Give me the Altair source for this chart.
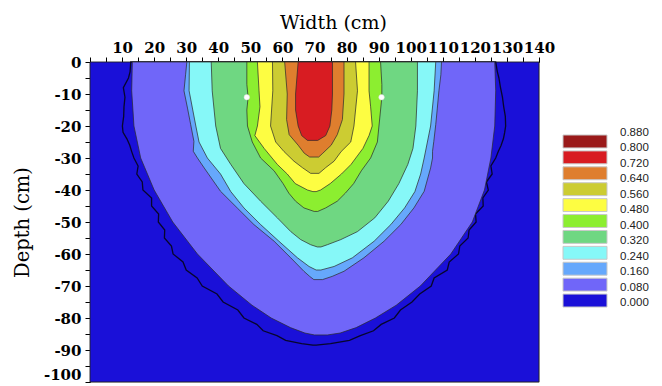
import altair as alt
import pandas as pd

# ---------------- values ----------------
# whole domain (0.000 class background)
BG_DEPTH = [0, -100]
BG_LEFT = [0, 0]
BG_RIGHT = [140, 140]

# outer (jagged) contour line: depth (cm) with left / right edge (cm)
OUT_DEPTH = [0, -3, -5, -8, -11, -14, -17, -20, -22, -24, -26, -28, -30, -32.5, -35, -37.5, -40,
             -42.5, -45, -47.5, -50, -52.5, -55, -57.5, -60, -62.5, -65, -67.5, -70, -72.5, -75,
             -77.5, -80, -82, -84, -85.5, -87, -88, -88.5]
OUT_LEFT = [12.7, 12.5, 12.0, 10.4, 10.9, 10.6, 10.5, 10.1, 10.3, 11.5, 12.4, 13.0, 13.7, 15.0, 14.6,
            16.3, 16.5, 19.2, 19.2, 21.4, 21.3, 23.3, 23.2, 25.4, 25.9, 29.0, 30.0, 33.4, 35.0, 39.6,
            41.5, 46.1, 48.0, 52.0, 54.0, 58.3, 61.0, 66.0, 69.5]
OUT_RIGHT = [126.5, 127.0, 127.5, 128.0, 128.6, 129.0, 129.5, 129.6, 129.3, 128.9, 128.2, 127.3, 126.5,
             125.0, 125.4, 123.6, 124.2, 122.5, 122.6, 120.2, 120.4, 118.2, 117.9, 115.3, 114.9, 112.0,
             111.4, 107.3, 106.4, 102.8, 100.4, 96.8, 94.9, 90.8, 88.4, 84.3, 80.9, 75.0, 70.5]

# filled contour regions (value >= level)
L08_DEPTH = [0, -9, -20, -30, -40, -50, -60, -70, -76, -80, -83, -84.7, -85.3]
L08_LEFT = [13.2, 13.0, 13.7, 15.8, 20.0, 25.8, 33.5, 43.2, 50.5, 56.5, 62.5, 67.0, 70.0]
L08_RIGHT = [126.2, 126.5, 126.2, 125.0, 123.0, 119.2, 112.5, 103.0, 95.5, 89.0, 83.0, 78.0, 74.0]

L16_DEPTH = [0, -4, -9, -14.4, -19.6, -24.8, -27.9, -30, -33.1, -40.4, -45.6, -50.8, -56, -61.2, -65.4, -67, -68]
L16_LEFT = [30.2, 29.8, 29.3, 30.4, 31.4, 32.4, 32.2, 33.5, 35.6, 40.7, 45.9, 51.1, 57.4, 62.6, 66.7, 68.5, 69.8]
L16_RIGHT = [109.6, 109.4, 108.8, 108.3, 107.8, 107.2, 106.8, 106.8, 106.2, 104.2, 101.0, 96.9, 91.7, 85.4, 79.2, 75.5, 72.5]

L24_DEPTH = [0, -9, -20, -25, -30, -35, -40.5, -45.6, -50.8, -56, -61.2, -63.9, -65]
L24_LEFT = [31.0, 30.9, 33.0, 34.0, 36.6, 40.7, 43.9, 48.0, 53.2, 58.9, 64.7, 68.3, 70.5]
L24_RIGHT = [107.8, 107.3, 106.2, 105.2, 104.2, 103.1, 101.3, 98.1, 93.8, 88.6, 81.8, 76.1, 72.0]

L32_DEPTH = [0, -9, -20, -27, -32, -38, -43.5, -48.7, -53, -55.5, -57.1, -57.8]
L32_LEFT = [37.8, 38.1, 39.2, 40.7, 43.9, 48.0, 53.2, 58.4, 62.6, 65.7, 68.8, 70.9]
L32_RIGHT = [102.1, 102.1, 101.6, 100.7, 99.1, 96.3, 93.0, 88.8, 83.4, 78.2, 74.0, 72.0]

L40_DEPTH = [0, -7, -11, -15, -20, -25, -30, -34, -38, -41, -43.5, -45.6, -46.7]
L40_LEFT = [48.9, 48.9, 49.3, 48.9, 49.1, 50.6, 53.2, 57.4, 60.2, 62.0, 64.1, 66.7, 69.9]
L40_RIGHT = [90.6, 91.0, 91.0, 90.6, 90.1, 89.6, 87.5, 84.6, 82.2, 79.6, 77.1, 73.5, 71.0]

L48_DEPTH = [0, -9, -14, -20, -23, -27, -32, -35, -38, -40, -40.5]
L48_LEFT = [52.2, 52.7, 53.0, 52.2, 51.4, 54.3, 58.4, 61.5, 64.0, 67.8, 69.5]
L48_RIGHT = [87.0, 87.0, 87.5, 88.0, 87.0, 85.1, 81.4, 78.4, 74.9, 71.9, 70.5]

L56_DEPTH = [0, -9, -20, -25, -28, -31, -33, -34.8]
L56_LEFT = [56.9, 57.0, 56.3, 57.9, 60.5, 63.6, 66.2, 68.8]
L56_RIGHT = [82.8, 83.4, 82.3, 81.3, 78.3, 76.1, 73.5, 71.4]

L64_DEPTH = [0, -10, -18, -22.7, -26, -28.5, -29.7]
L64_LEFT = [60.7, 61.5, 61.3, 62.1, 64.9, 66.8, 68.5]
L64_RIGHT = [79.2, 79.2, 78.7, 77.1, 75.2, 72.6, 71.3]

L72_DEPTH = [0, -5, -10, -15, -20, -23, -24.5]
L72_LEFT = [64.9, 64.5, 64.1, 64.1, 64.9, 66.0, 67.8]
L72_RIGHT = [75.6, 75.6, 75.6, 75.4, 74.8, 73.5, 71.0]

# emitters (white dots)
DOT_X = [48.9, 90.9]
DOT_DEPTH = [-11, -11]

# legend
LEGEND_LABELS = ["0.880", "0.800", "0.720", "0.640", "0.560", "0.480", "0.400", "0.320", "0.240", "0.160", "0.080", "0.000"]
LEGEND_VALUES = [0.88, 0.80, 0.72, 0.64, 0.56, 0.48, 0.40, 0.32, 0.24, 0.16, 0.08, 0.00]
CLASS_NAMES = ["c80", "c72", "c64", "c56", "c48", "c40", "c32", "c24", "c16", "c08", "c00"]
CLASS_COLORS = ["#9a1a1a", "#d81c22", "#df7e2e", "#cccc32", "#fdfd42", "#8cee30",
                "#6fd782", "#86f8f8", "#66a8fc", "#7066f9", "#1a10d8"]

X_TICKS = list(range(0, 145, 5))
Y_TICKS = list(range(-100, 5, 5))

BG_BLUE = "#1a10d8"
SERIF = "DejaVu Serif"

# ---------------- chart ----------------
x_scale = alt.Scale(domain=[0, 140], nice=False, zero=False)
y_scale = alt.Scale(domain=[-100, 0], nice=False, zero=False)

x_axis = alt.Axis(
    orient="top", values=X_TICKS, grid=False,
    labelExpr="datum.value % 10 == 0 && datum.value > 0 ? '' + datum.value : ''",
    labelFont=SERIF, labelFontSize=15, labelFontWeight="bold", labelColor="#000",
    labelBaseline="alphabetic",
    labelPadding=4.5, tickSize=5, tickColor="#000", domainColor="#000",
    labelOverlap=False, labelFlush=False, labelBound=False,
    title="Width (cm)", titleFont=SERIF, titleFontSize=19, titleFontWeight="normal",
    titleColor="#000", titleX=243, titleY=-34, titleBaseline="alphabetic", titleAlign="center",
)
y_axis = alt.Axis(
    orient="left", values=Y_TICKS, grid=False,
    labelExpr="datum.value % 10 == 0 ? '' + datum.value : ''",
    labelFont=SERIF, labelFontSize=15, labelFontWeight="bold", labelColor="#000",
    labelBaseline={"condition": {"test": "datum.value <= -100", "value": "bottom"}, "value": "middle"},
    labelPadding=4, tickSize=5, tickColor="#000", domainColor="#000",
    labelOverlap=False, labelFlush=False, labelBound=False,
    title="Depth (cm)", titleFont=SERIF, titleFontSize=19.5, titleFontWeight="normal",
    titleColor="#000", titleAngle=270, titleX=-68, titleY=160,
    titleBaseline="middle", titleAlign="center",
)


def band(depth, left, right, fill, stroke="#2b2b2b", sw=0.8):
    df = pd.DataFrame({"depth": depth, "left": left, "right": right})
    return alt.Chart(df).mark_area(
        orient="horizontal", fill=fill, stroke=stroke, strokeWidth=sw,
        strokeOpacity=0.9, interpolate="linear", opacity=1,
    ).encode(
        y=alt.Y("depth:Q", scale=y_scale, axis=y_axis),
        x=alt.X("left:Q", scale=x_scale, axis=x_axis),
        x2="right:Q",
    )


bands = [
    band(BG_DEPTH, BG_LEFT, BG_RIGHT, BG_BLUE, stroke="#222222", sw=1),
    band(OUT_DEPTH, OUT_LEFT, OUT_RIGHT, BG_BLUE, stroke="#05051a", sw=1.3),
    band(L08_DEPTH, L08_LEFT, L08_RIGHT, CLASS_COLORS[9]),
    band(L16_DEPTH, L16_LEFT, L16_RIGHT, CLASS_COLORS[8]),
    band(L24_DEPTH, L24_LEFT, L24_RIGHT, CLASS_COLORS[7]),
    band(L32_DEPTH, L32_LEFT, L32_RIGHT, CLASS_COLORS[6]),
    band(L40_DEPTH, L40_LEFT, L40_RIGHT, CLASS_COLORS[5]),
    band(L48_DEPTH, L48_LEFT, L48_RIGHT, CLASS_COLORS[4]),
    band(L56_DEPTH, L56_LEFT, L56_RIGHT, CLASS_COLORS[3]),
    band(L64_DEPTH, L64_LEFT, L64_RIGHT, CLASS_COLORS[2]),
    band(L72_DEPTH, L72_LEFT, L72_RIGHT, CLASS_COLORS[1]),
]

dots = alt.Chart(pd.DataFrame({"x": DOT_X, "depth": DOT_DEPTH})).mark_circle(
    size=30, color="white", opacity=1, stroke="#dddddd", strokeWidth=0.5
).encode(
    x=alt.X("x:Q", scale=x_scale, axis=x_axis),
    y=alt.Y("depth:Q", scale=y_scale, axis=y_axis),
)

main = alt.layer(*bands, dots)

leg_df = pd.DataFrame({
    "cls": CLASS_NAMES,
    "hi": LEGEND_VALUES[:-1],
    "lo": LEGEND_VALUES[1:],
})
leg_rects = alt.Chart(leg_df).mark_rect(
    yOffset=-1.5, y2Offset=1.5, stroke="#c8c8c8", strokeWidth=1
).encode(
    y=alt.Y("lo:Q", scale=alt.Scale(domain=[0, 0.88], range=[246.5, 71.5]), axis=None),
    y2="hi:Q",
    x=alt.value(473),
    x2=alt.value(517),
    color=alt.Color("cls:N", scale=alt.Scale(domain=CLASS_NAMES, range=CLASS_COLORS), legend=None),
)

leg_text = alt.Chart(pd.DataFrame({"v": LEGEND_VALUES, "t": LEGEND_LABELS})).mark_text(
    align="left", baseline="middle", font="Liberation Sans", fontSize=11.5, color="#222"
).encode(
    y=alt.Y("v:Q", scale=alt.Scale(domain=[0, 0.88], range=[241, 71]), axis=None),
    x=alt.value(530),
    text="t:N",
)

chart = alt.layer(main, leg_rects, leg_text).resolve_scale(
    y="independent", x="independent", color="independent"
).properties(
    width=449, height=320,
    autosize=alt.AutoSizeParams(type="none"),
    padding={"left": 82, "top": 54, "right": 115, "bottom": 3},
).configure_view(
    stroke="#222", strokeWidth=1
).configure(background="white")

chart.save("out.html", embed_options={"renderer": "svg", "actions": False})
